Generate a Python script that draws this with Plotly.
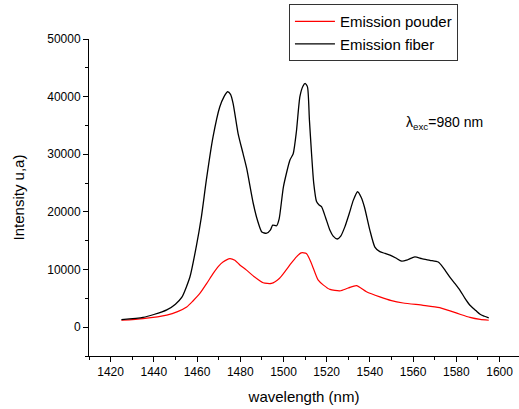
import plotly.graph_objects as go

# Emission fiber (black)
wl_fiber = [1425, 1435, 1440, 1446, 1450, 1453, 1456.7, 1459.6, 1462, 1464.3,
            1467.4, 1470.5, 1472.5, 1474.1, 1475.5, 1476.7, 1479, 1481.3, 1483, 1486,
            1488, 1490, 1492.2, 1494, 1495, 1496.8, 1498, 1500, 1503, 1504.5,
            1506, 1507.6, 1509, 1510, 1511.1, 1512, 1513, 1514, 1515.3, 1516.5,
            1517.6, 1519.5, 1521.5, 1523, 1524.9, 1526.5, 1528.4, 1530.5, 1532.3, 1534.3,
            1536, 1537.5, 1540, 1542.3, 1544.6, 1547, 1549.3, 1552, 1554.7, 1557.5,
            1560.8, 1564, 1567.8, 1571.6, 1574, 1577, 1579.5, 1581.7, 1584, 1586.3,
            1589, 1591, 1593, 1595]
int_fiber = [1300, 1700, 2200, 3000, 4000, 5200, 8700, 13900, 19100, 25500,
             33000, 38200, 40000, 40850, 40400, 38800, 33600, 30100, 27500, 21500,
             18500, 16500, 16300, 16900, 17700, 17600, 18800, 24400, 29000, 30100,
             34000, 40000, 41800, 42300, 41700, 36000, 30100, 25000, 21800, 21200,
             20900, 19000, 16800, 15800, 15300, 15800, 17400, 19800, 22000, 23500,
             22500, 20800, 16800, 13900, 13100, 12800, 12500, 12000, 11450, 11700,
             12200, 11900, 11600, 11300, 10300, 8700, 7500, 6400, 5000, 3800,
             2900, 2250, 1900, 1600]

# Emission powder (red)
wl_powder = [1425, 1435, 1446, 1451, 1455.2, 1458, 1461.3, 1464.5, 1467.4, 1470,
             1472, 1475.2, 1477.5, 1479.8, 1482.9, 1486, 1490.6, 1494.4, 1498.2, 1501,
             1503.6, 1506, 1508.2, 1510.6, 1512.9, 1516, 1518.5, 1521.5, 1526.1, 1530,
             1533.8, 1538.4, 1544.6, 1550, 1555.4, 1564.6, 1572.3, 1578.5, 1582, 1586.3,
             1591, 1595]
int_powder = [1200, 1500, 2100, 2700, 3500, 4500, 5850, 7600, 9300, 10600,
              11300, 11900, 11600, 10800, 9900, 8900, 7700, 7600, 8500, 9800,
              11100, 12200, 12900, 12800, 11100, 8200, 7300, 6550, 6300, 6800,
              7200, 6150, 5250, 4600, 4200, 3800, 3400, 2650, 2200, 1700,
              1350, 1200]

FONT = "Liberation Sans, Arial, sans-serif"

fig = go.Figure()
fig.add_trace(go.Scatter(x=wl_powder, y=int_powder, mode="lines", name="Emission pouder",
                         line=dict(color="#ff0000", width=1.2, shape="spline", smoothing=0.6)))
fig.add_trace(go.Scatter(x=wl_fiber, y=int_fiber, mode="lines", name="Emission fiber",
                         line=dict(color="#000000", width=1.3, shape="spline", smoothing=0.6)))

fig.add_annotation(x=1556, y=35400, xref="x", yref="y", xanchor="left", yanchor="middle",
                   text="λ<sub>exc</sub>=980 nm", showarrow=False,
                   font=dict(family=FONT, size=14, color="#000"))

fig.update_layout(
    width=519, height=409,
    margin=dict(l=89, r=0, t=39, b=53),
    paper_bgcolor="white", plot_bgcolor="white",
    font=dict(family=FONT, size=12, color="#000"),
    showlegend=True,
    legend=dict(x=0.465, y=1.11, xanchor="left", yanchor="top",
                bgcolor="white", bordercolor="#333", borderwidth=1,
                font=dict(family=FONT, size=15, color="#000"),
                tracegroupgap=0, itemwidth=40),
    xaxis=dict(range=[1410, 1609], showgrid=False, zeroline=False, automargin=False,
               showline=True, linecolor="#000", linewidth=1,
               ticks="outside", ticklen=5, tickcolor="#000",
               tick0=1420, dtick=20,
               minor=dict(ticks="outside", ticklen=3, dtick=10, tick0=1410, tickcolor="#000"),
               title=dict(text="wavelength (nm)", font=dict(family=FONT, size=15, color="#000"), standoff=13),
               tickfont=dict(family=FONT, size=12, color="#000")),
    yaxis=dict(range=[-5000, 50000], showgrid=False, zeroline=False, automargin=False,
               showline=True, linecolor="#000", linewidth=1,
               ticks="outside", ticklen=5, tickcolor="#000",
               tick0=0, dtick=10000, tickformat="d",
               minor=dict(ticks="outside", ticklen=3, dtick=5000, tick0=0, tickcolor="#000"),
               title=dict(text="Intensity u,a)", font=dict(family=FONT, size=15, color="#000"), standoff=18),
               tickfont=dict(family=FONT, size=12, color="#000")),
)

fig.write_html("out.html", config={"displayModeBar": False},
               post_script="document.body.style.margin='0px';")
